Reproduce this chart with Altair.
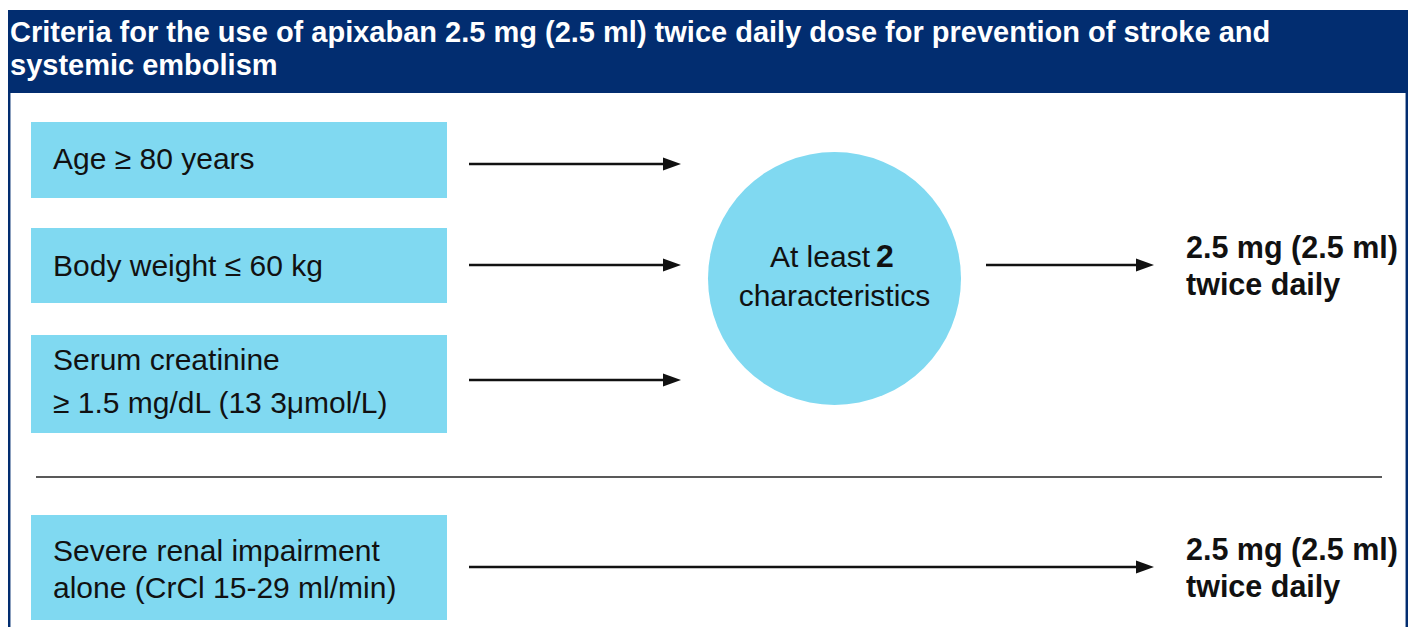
import altair as alt
import pandas as pd

# ---------------- content ----------------
title_lines = [
    "Criteria for the use of apixaban 2.5 mg (2.5 ml) twice daily dose for prevention of stroke and",
    "systemic embolism",
]
criteria_lines = [
    ["Age ≥ 80 years"],
    ["Body weight ≤ 60 kg"],
    ["Serum creatinine", "≥ 1.5 mg/dL (13 3μmol/L)"],
    ["Severe renal impairment", "alone (CrCl 15-29 ml/min)"],
]
circle_lead = "At least"
circle_count = "2"
circle_tail = "characteristics"
outcome_lines = ["2.5 mg (2.5 ml)", "twice daily"]

# ---------------- layout (reference pixel coordinates) ----------------
X_MIN, X_MAX = 8, 1408
Y_MIN, Y_MAX = 8, 627
W, H = 1400, 619
header = dict(x=X_MIN, x2=X_MAX, y=10, y2=93)
title_x = 10
title_baselines = [42, 75]
box_left, box_right = 31, 447
box_tops = [122, 228, 335, 515]
box_bottoms = [198, 303, 433, 620]
crit_text_x = 53
crit_baselines = [[169], [276], [370, 413], [561, 598]]
arrow_x1 = [469, 469, 469, 986, 469]
arrow_tip = [681, 681, 681, 1154, 1154]
arrow_y = [164, 265, 380, 265, 567]
head_len = 18
circle_cx, circle_cy, circle_r = 834.5, 278.5, 126.5
circle_baselines = [267, 306]
lead_right, count_left = 870, 876
outcome_x = 1186
outcome_baselines = [[258, 295], [560, 597]]
sep_x1, sep_x2, sep_y = 36, 1382, 477
border_x = [9.2, 1406.8]

NAVY = "#022d70"
LIGHT = "#80d9f1"
INK = "#111111"
FONT = "Liberation Sans"

sx = W / (X_MAX - X_MIN)

xs = alt.Scale(domain=[X_MIN, X_MAX], nice=False, zero=False)
ys = alt.Scale(domain=[Y_MIN, Y_MAX], nice=False, zero=False, reverse=True)


def X(f="x"):
    return alt.X(f"{f}:Q", scale=xs, axis=None)


def Y(f="y"):
    return alt.Y(f"{f}:Q", scale=ys, axis=None)


# header band
header_df = pd.DataFrame([header])
header_layer = alt.Chart(header_df).mark_rect(color=NAVY).encode(
    x=X(), x2="x2:Q", y=Y(), y2="y2:Q"
)

# side borders
border_df = pd.DataFrame({"x": border_x, "y": [93, 93], "y2": [640, 640]})
border_layer = alt.Chart(border_df).mark_rule(color=NAVY, strokeWidth=2.5, clip=False).encode(
    x=X(), y=Y(), y2="y2:Q"
)

# title text
title_df = pd.DataFrame({"text": title_lines, "x": title_x, "y": title_baselines})
title_layer = alt.Chart(title_df).mark_text(
    align="left", baseline="alphabetic", font=FONT, fontSize=29, fontWeight="bold", color="white"
).encode(x=X(), y=Y(), text="text:N")

# criteria boxes
boxes_df = pd.DataFrame({"x": box_left, "x2": box_right, "y": box_tops, "y2": box_bottoms})
boxes_layer = alt.Chart(boxes_df).mark_rect(color=LIGHT).encode(
    x=X(), x2="x2:Q", y=Y(), y2="y2:Q"
)

crit_rows = []
for lines, bases in zip(criteria_lines, crit_baselines):
    for t, b in zip(lines, bases):
        crit_rows.append({"text": t, "x": crit_text_x, "y": b})
crit_df = pd.DataFrame(crit_rows)
crit_layer = alt.Chart(crit_df).mark_text(
    align="left", baseline="alphabetic", font=FONT, fontSize=30, color=INK
).encode(x=X(), y=Y(), text="text:N")

# separator
sep_df = pd.DataFrame({"x": [sep_x1], "x2": [sep_x2], "y": [sep_y]})
sep_layer = alt.Chart(sep_df).mark_rule(color="#222222", strokeWidth=1.4).encode(
    x=X(), x2="x2:Q", y=Y()
)

# arrows
arrow_df = pd.DataFrame({
    "x": arrow_x1,
    "x2": [t - head_len + 2 for t in arrow_tip],
    "y": arrow_y,
    "hx": [t - head_len / 2 for t in arrow_tip],
})
arrow_line = alt.Chart(arrow_df).mark_rule(color=INK, strokeWidth=2.6).encode(
    x=X(), x2="x2:Q", y=Y()
)
arrow_head = alt.Chart(arrow_df).mark_point(
    shape="M -1 -0.72 L 1 0 L -1 0.72 Z", filled=True, color=INK, opacity=1,
    size=(head_len * sx) ** 2, strokeWidth=0
).encode(x=X("hx"), y=Y())

# circle
circle_df = pd.DataFrame({"x": [circle_cx], "y": [circle_cy]})
circle_layer = alt.Chart(circle_df).mark_point(
    shape="circle", filled=True, color=LIGHT, opacity=1,
    size=(2 * circle_r * sx) ** 2, strokeWidth=0
).encode(x=X(), y=Y())

lead_df = pd.DataFrame({"text": [circle_lead], "x": [lead_right], "y": [circle_baselines[0]]})
lead_layer = alt.Chart(lead_df).mark_text(
    align="right", baseline="alphabetic", font=FONT, fontSize=30, color=INK
).encode(x=X(), y=Y(), text="text:N")
count_df = pd.DataFrame({"text": [circle_count], "x": [count_left], "y": [circle_baselines[0]]})
count_layer = alt.Chart(count_df).mark_text(
    align="left", baseline="alphabetic", font=FONT, fontSize=32, fontWeight="bold", color=INK
).encode(x=X(), y=Y(), text="text:N")
tail_df = pd.DataFrame({"text": [circle_tail], "x": [circle_cx], "y": [circle_baselines[1]]})
tail_layer = alt.Chart(tail_df).mark_text(
    align="center", baseline="alphabetic", font=FONT, fontSize=30, color=INK
).encode(x=X(), y=Y(), text="text:N")

# outcomes
out_rows = []
for bases in outcome_baselines:
    for t, b in zip(outcome_lines, bases):
        out_rows.append({"text": t, "x": outcome_x, "y": b})
out_df = pd.DataFrame(out_rows)
out_layer = alt.Chart(out_df).mark_text(
    align="left", baseline="alphabetic", font=FONT, fontSize=30.5, fontWeight="bold", color=INK
).encode(x=X(), y=Y(), text="text:N")

chart = alt.layer(
    header_layer, border_layer, title_layer, boxes_layer, crit_layer, sep_layer,
    arrow_line, arrow_head, circle_layer, lead_layer, count_layer, tail_layer, out_layer
).properties(
    width=W, height=H, padding=0, autosize=alt.AutoSizeParams(type="none"),
    background="white"
).configure_view(strokeWidth=0)

chart.save("out.html", embed_options={"renderer": "svg", "actions": False})
